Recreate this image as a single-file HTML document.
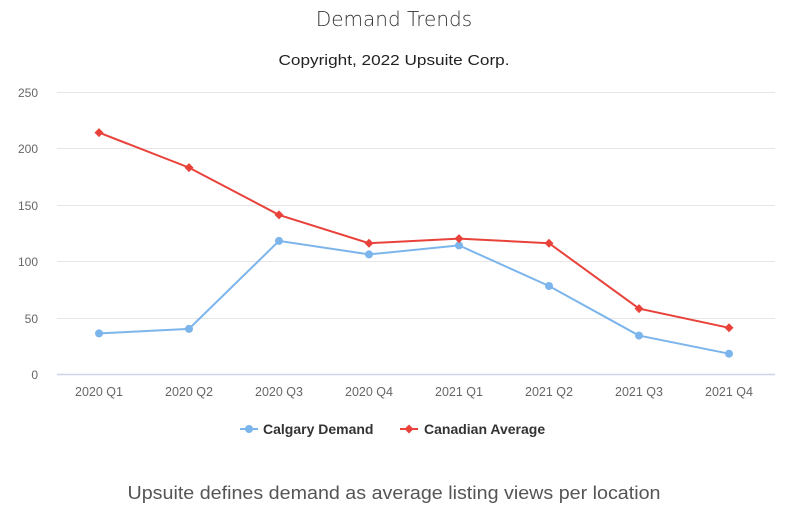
<!DOCTYPE html>
<html><head><meta charset="utf-8"><style>
html,body{margin:0;padding:0;background:#fff;}
svg{display:block;font-family:"Liberation Sans","DejaVu Sans",sans-serif;}
</style></head><body>
<svg width="792" height="512" viewBox="0 0 792 512" xmlns="http://www.w3.org/2000/svg">
<rect width="792" height="512" fill="#fff"/>
<text x="394" y="26" text-anchor="middle" font-size="20" fill="#333" font-family="DejaVu Sans, sans-serif" font-weight="300">Demand Trends</text>
<text x="394" y="65" text-anchor="middle" font-size="15" fill="#222" textLength="231" lengthAdjust="spacingAndGlyphs">Copyright, 2022 Upsuite Corp.</text>
<g stroke="#e6e6e6" stroke-width="1">
<line x1="57" y1="92.5" x2="775" y2="92.5"/>
<line x1="57" y1="148.5" x2="775" y2="148.5"/>
<line x1="57" y1="205.5" x2="775" y2="205.5"/>
<line x1="57" y1="261.5" x2="775" y2="261.5"/>
<line x1="57" y1="318.5" x2="775" y2="318.5"/>
</g>
<line x1="57" y1="374.5" x2="775" y2="374.5" stroke="#ccd6eb" stroke-width="1.5"/>
<g font-size="12" fill="#666" text-anchor="end">
<text x="38" y="97">250</text><text x="38" y="153">200</text><text x="38" y="210">150</text>
<text x="38" y="266">100</text><text x="38" y="323">50</text><text x="38" y="379">0</text>
</g>
<g font-size="12.5" fill="#666" text-anchor="middle">
<text x="99" y="396">2020 Q1</text><text x="189" y="396">2020 Q2</text><text x="279" y="396">2020 Q3</text><text x="369" y="396">2020 Q4</text>
<text x="459" y="396">2021 Q1</text><text x="549" y="396">2021 Q2</text><text x="639" y="396">2021 Q3</text><text x="729" y="396">2021 Q4</text>
</g>
<polyline fill="none" stroke="#7cb5ec" stroke-width="2" points="99,333.4 189,328.9 279,240.9 369,254.4 459,245.4 549,286 639,335.6 729,353.7"/>
<g fill="#7cb5ec">
<circle cx="99" cy="333.4" r="4"/><circle cx="189" cy="328.9" r="4"/><circle cx="279" cy="240.9" r="4"/><circle cx="369" cy="254.4" r="4"/>
<circle cx="459" cy="245.4" r="4"/><circle cx="549" cy="286" r="4"/><circle cx="639" cy="335.6" r="4"/><circle cx="729" cy="353.7" r="4"/>
</g>
<polyline fill="none" stroke="#e8423a" stroke-width="2" points="99,132.6 189,167.6 279,214.9 369,243.2 459,238.6 549,243.2 639,308.6 729,327.8"/>
<g fill="#e8423a">
<path d="M99 128.1l4.5 4.5-4.5 4.5-4.5-4.5z"/><path d="M189 163.1l4.5 4.5-4.5 4.5-4.5-4.5z"/><path d="M279 210.4l4.5 4.5-4.5 4.5-4.5-4.5z"/><path d="M369 238.7l4.5 4.5-4.5 4.5-4.5-4.5z"/>
<path d="M459 234.1l4.5 4.5-4.5 4.5-4.5-4.5z"/><path d="M549 238.7l4.5 4.5-4.5 4.5-4.5-4.5z"/><path d="M639 304.1l4.5 4.5-4.5 4.5-4.5-4.5z"/><path d="M729 323.3l4.5 4.5-4.5 4.5-4.5-4.5z"/>
</g>
<line x1="240" y1="429" x2="258" y2="429" stroke="#7cb5ec" stroke-width="2"/>
<circle cx="249" cy="429" r="4" fill="#7cb5ec"/>
<text x="263" y="434" font-size="14" font-weight="bold" fill="#333">Calgary Demand</text>
<line x1="400" y1="429" x2="418" y2="429" stroke="#e8423a" stroke-width="2"/>
<path d="M409 424.5l4.5 4.5-4.5 4.5-4.5-4.5z" fill="#e8423a"/>
<text x="424" y="434" font-size="14" font-weight="bold" fill="#333">Canadian Average</text>
<text x="394" y="499" text-anchor="middle" font-size="18" fill="#555" textLength="533" lengthAdjust="spacingAndGlyphs">Upsuite defines demand as average listing views per location</text>
</svg>
</body></html>
